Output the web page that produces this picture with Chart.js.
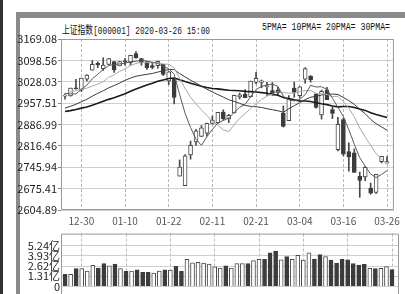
<!DOCTYPE html>
<html><head><meta charset="utf-8">
<script src="https://cdn.jsdelivr.net/npm/chart.js@4"></script>
<style>
html,body{margin:0;padding:0;background:#fff;width:405px;height:294px;overflow:hidden;position:relative;}
#strip{position:absolute;left:0;top:0;width:3px;height:294px;background:#333;}
#vband{position:absolute;left:16px;top:12px;width:4px;height:282px;background:#8a8a8a;}
#hband{position:absolute;left:16px;top:12px;width:389px;height:6px;background:#8a8a8a;}
#c1{position:absolute;left:0;top:0;}
#c2{position:absolute;left:0;top:226px;}
.txt{position:absolute;white-space:nowrap;transform-origin:0 0;color:#111;line-height:11px;}
#title{left:62px;top:21px;font:11px 'Liberation Mono','Noto Sans CJK SC',monospace;}
#legend{left:262px;top:22px;font:10px 'Liberation Mono','Noto Sans CJK SC',monospace;}
</style></head><body>
<div id="strip"></div><div id="hband"></div><div id="vband"></div>
<div id="title" class="txt">上证指数[000001] 2020-03-26 15:00</div>
<div id="legend" class="txt">5PMA= 10PMA= 20PMA= 30PMA=</div>
<canvas id="c1" width="405" height="230"></canvas>
<canvas id="c2" width="405" height="68"></canvas>
<script>
const dates = ['12-25','12-26','12-27','12-30','12-31','01-02','01-03','01-06','01-07','01-08','01-09','01-10','01-13','01-14','01-15','01-16','01-17','01-20','01-21','01-22','01-23','02-03','02-04','02-05','02-06','02-07','02-10','02-11','02-12','02-13','02-14','02-17','02-18','02-19','02-20','02-21','02-24','02-25','02-26','02-27','02-28','03-02','03-03','03-04','03-05','03-06','03-09','03-10','03-11','03-12','03-13','03-16','03-17','03-18','03-19','03-20','03-23','03-24','03-25','03-26'];
const opens = [2980.43,2981.25,3006.85,3000.58,3036.39,3066.34,3089.02,3070.91,3085.49,3094.24,3080.50,3097.11,3091.27,3120.90,3104.20,3094.60,3081.07,3081.09,3085.62,3030.82,3037.95,2716.70,2685.27,2786.40,2829.69,2848.05,2858.02,2890.39,2893.12,2927.66,2905.51,2924.97,2977.80,2987.08,2978.97,3025.47,3026.11,3011.64,2999.29,3000.71,2924.64,2899.31,3006.89,2981.81,3036.15,3047.04,2987.18,2918.93,3001.76,2936.02,2804.23,2903.60,2797.98,2793.44,2715.67,2714.10,2677.40,2662.83,2764.60,2759.35];
const highs = [2988.29,3007.35,3036.11,3040.02,3051.68,3098.10,3093.82,3107.20,3105.45,3094.24,3095.07,3105.22,3115.57,3127.17,3105.65,3095.26,3091.35,3095.86,3085.62,3062.31,3037.95,2770.00,2787.74,2832.30,2871.17,2883.87,2891.60,2914.50,2926.90,2935.36,2920.40,2983.62,2990.63,3001.84,3030.15,3058.90,3033.80,3026.27,3025.51,3009.62,2948.19,2982.51,3026.84,3012.00,3074.26,3048.45,2989.20,3000.50,3010.03,2944.47,2910.88,2907.67,2826.51,2806.84,2729.76,2748.96,2693.87,2722.44,2781.59,2780.90];
const lows = [2970.67,2980.40,3003.63,2996.06,3030.51,3066.34,3074.52,3065.31,3084.33,3059.13,3080.50,3082.36,3082.03,3105.84,3082.43,3068.95,3070.47,3072.25,3048.73,3018.57,2955.14,2716.70,2685.27,2772.60,2817.61,2846.52,2848.55,2887.99,2890.53,2901.26,2893.32,2924.97,2971.31,2975.40,2977.63,3020.91,3008.00,2982.85,2983.47,2983.69,2878.54,2899.31,2976.62,2974.36,3022.93,3026.79,2940.71,2904.80,2968.52,2906.29,2799.98,2783.55,2733.15,2728.76,2646.81,2701.41,2656.68,2659.72,2760.25,2759.35];
const closes = [2981.88,3007.35,3005.04,3040.02,3050.12,3085.20,3083.79,3083.41,3104.80,3066.89,3094.88,3092.29,3115.57,3106.82,3090.04,3074.08,3075.50,3095.79,3052.14,3060.75,2976.53,2746.61,2783.29,2818.09,2866.51,2875.96,2890.49,2901.67,2926.90,2906.07,2917.01,2983.62,2984.97,2975.40,3030.15,3039.67,3031.23,3013.05,2987.93,2991.33,2880.30,2970.93,2992.90,3011.67,3071.68,3034.51,2943.29,2996.76,2968.52,2923.49,2887.43,2789.25,2779.64,2728.76,2702.13,2745.62,2660.17,2722.44,2781.59,2764.91];
// closes of the 30 sessions before the first visible day (needed for the moving averages)
const priorCloses = [2905.24,2909.87,2891.34,2909.20,2933.99,2911.05,2903.64,2885.29,2906.17,2910.41,2903.19,2889.69,2871.98,2875.81,2884.70,2878.12,2899.47,2912.01,2914.48,2917.32,2924.42,2915.70,2967.68,2984.39,3022.42,3017.04,3017.07,3004.94,2962.75,2982.68];
const volumes = [1.55,1.55,2.29,2.29,1.98,2.72,2.37,2.95,2.64,2.87,2.29,1.94,1.98,2.13,1.82,1.82,1.71,1.98,2.13,2.10,2.60,1.94,3.49,3.03,3.10,3.00,2.87,2.52,2.37,2.64,2.37,2.95,2.95,2.95,3.34,3.49,3.49,4.31,4.54,3.42,3.84,3.49,4.00,3.38,4.31,3.53,4.11,3.84,3.38,3.00,3.49,3.42,2.95,2.76,2.84,2.33,2.29,2.33,2.55,2.17];
const xTickLabels = ['12-30','01-10','01-22','02-11','02-21','03-04','03-16','03-26'];
const yTickLabels = ['3169.08','3098.56','3028.03','2957.51','2886.99','2816.46','2745.94','2675.41','2604.89'];
const volTickLabels = ['0','1.31亿','2.62亿','3.93亿','5.24亿'];
const maPeriods = [5,10,20,30];

const allCloses = priorCloses.concat(closes);
function movingAvg(n){
  return closes.map((_, i) => {
    const end = priorCloses.length + i; let s = 0;
    for (let k = end - n + 1; k <= end; k++) s += allCloses[k];
    return {x: i, y: s / n};
  });
}
const xTickIdx = xTickLabels.map(l => dates.indexOf(l));
const X_MIN = -0.736, X_MAX = 60.263;
const UP_EDGE = '#4a4a4a', DOWN_FILL = '#3c3c3c';
const narrow = "'Liberation Sans Narrow','Noto Sans CJK SC',sans-serif";
const labelFor = (list, v) => list.find(l => Math.abs(parseFloat(l) - v) < 1e-6) || '';

const framePlugin = {
  id: 'frame',
  afterDraw(chart, args, opts) {
    const a = chart.chartArea, c = chart.ctx;
    c.save(); c.strokeStyle = '#9a9a9a'; c.lineWidth = 1;
    c.beginPath();
    if (opts.openBottom) {
      c.moveTo(a.left + 0.5, chart.height); c.lineTo(a.left + 0.5, a.top + 0.5);
      c.lineTo(a.right - 0.5, a.top + 0.5); c.lineTo(a.right - 0.5, chart.height);
    } else {
      c.rect(a.left + 0.5, a.top + 0.5, a.width - 1, a.height - 1);
    }
    c.stroke(); c.restore();
  }
};

const up = i => closes[i] >= opens[i];
const maColors = ['#5a5a5a', '#a8a8a8', '#3a3a3a', '#1a1a1a'];
const maWidths = [1, 1, 1, 1.6];

new Chart(document.getElementById('c1'), {
  type: 'bar',
  data: {
    datasets: [
      {label: 'wick', data: closes.map((_, i) => ({x: i, y: [lows[i], highs[i]]})),
       backgroundColor: '#4a4a4a', barThickness: 1, grouped: false, order: 3, borderWidth: 0},
      {label: 'body', data: closes.map((_, i) => ({x: i, y: [opens[i], closes[i]]})),
       backgroundColor: ctx => up(ctx.dataIndex) ? '#ffffff' : DOWN_FILL,
       borderColor: ctx => up(ctx.dataIndex) ? UP_EDGE : DOWN_FILL,
       borderWidth: 1, borderSkipped: false, barThickness: 4, minBarLength: 1, grouped: false, order: 2},
      ...maPeriods.map((p, k) => ({type: 'line', label: p + 'MA', data: movingAvg(p),
        borderColor: maColors[k], borderWidth: maWidths[k], pointRadius: 0, tension: 0, order: 1}))
    ]
  },
  options: {
    responsive: false, animation: false, devicePixelRatio: 1,
    layout: {padding: {left: 0, right: 6, top: 39, bottom: 0}},
    plugins: {legend: {display: false}, tooltip: {enabled: false}, frame: {}},
    scales: {
      x: {type: 'linear', min: X_MIN, max: X_MAX, offset: false,
        afterBuildTicks: s => { s.ticks = xTickIdx.map(v => ({value: v})); },
        afterFit: s => { s.height = 20; },
        ticks: {callback: v => dates[v], font: {size: 10, family: narrow}, color: '#555', padding: 5, maxRotation: 0, autoSkip: false},
        grid: {color: '#b8b8b8', drawTicks: false, offset: false},
        border: {display: false, dash: [3, 2]}},
      y: {min: 2604.89, max: 3169.08,
        afterBuildTicks: s => { s.ticks = yTickLabels.map(v => ({value: parseFloat(v)})); },
        afterFit: s => { s.width = 61; },
        ticks: {callback: v => labelFor(yTickLabels, v), autoSkip: false, font: {size: 11, family: narrow}, color: '#222', padding: 1},
        grid: {color: '#cfcfcf', tickLength: 3, tickColor: '#888'},
        border: {display: false}}
    }
  },
  plugins: [framePlugin]
});

const volUp = i => closes[i] >= (i === 0 ? priorCloses[priorCloses.length - 1] : closes[i - 1]);
new Chart(document.getElementById('c2'), {
  type: 'bar',
  data: {
    datasets: [{label: 'vol', data: volumes.map((v, i) => ({x: i, y: v})),
      backgroundColor: ctx => volUp(ctx.dataIndex) ? '#ffffff' : DOWN_FILL,
      borderColor: ctx => volUp(ctx.dataIndex) ? UP_EDGE : DOWN_FILL,
      borderWidth: 1, borderSkipped: 'bottom', barThickness: 4, grouped: false}]
  },
  options: {
    responsive: false, animation: false, devicePixelRatio: 1,
    layout: {padding: {left: 0, right: 6, top: 6, bottom: 3}},
    plugins: {legend: {display: false}, tooltip: {enabled: false}, frame: {openBottom: true}},
    scales: {
      x: {type: 'linear', min: X_MIN, max: X_MAX, offset: false,
        afterBuildTicks: s => { s.ticks = xTickIdx.map(v => ({value: v})); },
        afterFit: s => { s.height = 0; },
        ticks: {display: false},
        grid: {color: '#b8b8b8', drawTicks: false, offset: false},
        border: {display: false, dash: [3, 2]}},
      y: {min: 0, max: 6.8,
        afterBuildTicks: s => { s.ticks = volTickLabels.map(v => ({value: parseFloat(v)})); },
        afterFit: s => { s.width = 61; },
        ticks: {callback: v => labelFor(volTickLabels, v), autoSkip: false, font: {size: 11, family: narrow}, color: '#222', padding: 1},
        grid: {color: '#cfcfcf', drawTicks: false},
        border: {display: false}}
    }
  },
  plugins: [framePlugin]
});

function fit(id, w){ const el = document.getElementById(id); const r = el.getBoundingClientRect().width; el.style.transform = 'scaleX(' + (w / r) + ')'; }
fit('title', 148); fit('legend', 128);
</script>
</body></html>
